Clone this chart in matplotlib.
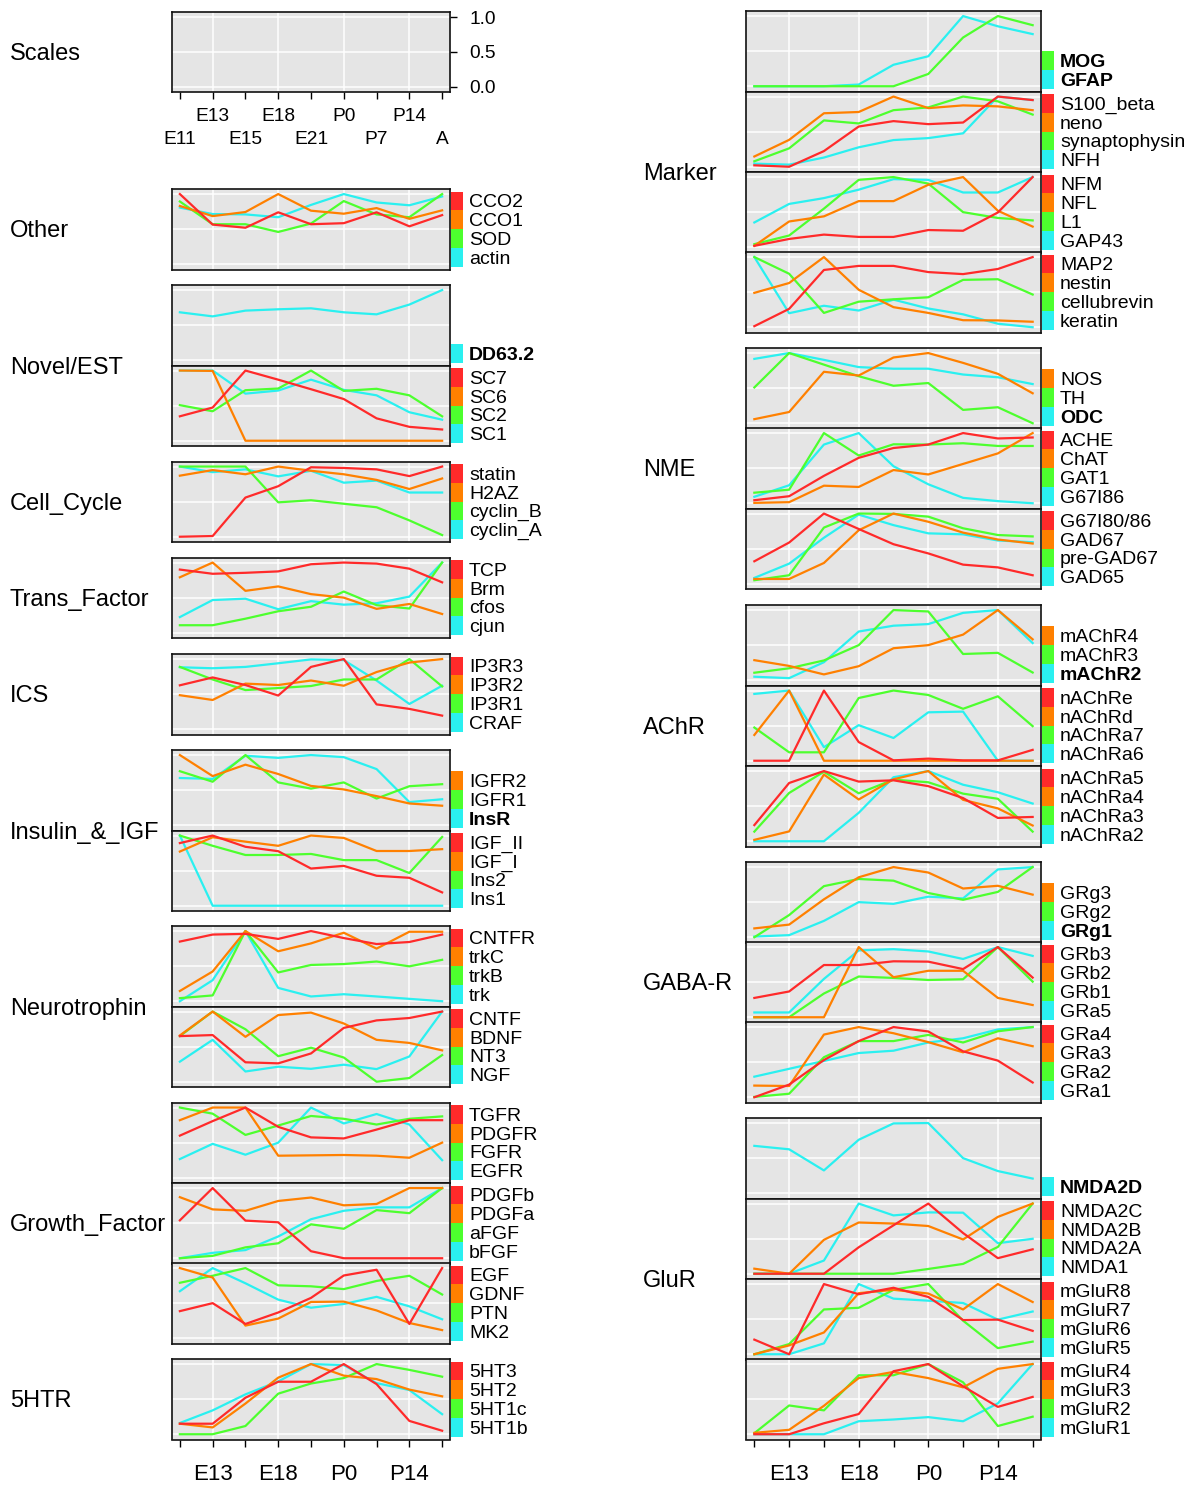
import matplotlib
matplotlib.use("Agg")
import matplotlib.pyplot as plt
from matplotlib.patches import Rectangle
from matplotlib.transforms import Affine2D, blended_transform_factory

plt.rcParams['font.family'] = ['Liberation Sans', 'DejaVu Sans']

stages = ["E11", "E13", "E15", "E18", "E21", "P0", "P7", "P14", "A"]
row1_labels = ["", "E13", "", "E18", "", "P0", "", "P14", ""]
row2_labels = ["E11", "", "E15", "", "E21", "", "P7", "", "A"]
scale_ticks = [0.0, 0.5, 1.0]

# ---------------- data (left column) ----------------
other = {"CCO2": [1.0, 0.565, 0.52, 0.74, 0.57, 0.585, 0.74, 0.54, 0.70],
         "CCO1": [0.83, 0.686, 0.744, 1.0, 0.763, 0.72, 0.80, 0.647, 0.768],
         "SOD": [0.894, 0.57, 0.57, 0.46, 0.58, 0.90, 0.71, 0.67, 1.0],
         "actin": [0.807, 0.715, 0.71, 0.67, 0.845, 1.0, 0.88, 0.84, 0.966]}
novel_a = {"DD63.2": [0.683, 0.625, 0.707, 0.726, 0.74, 0.683, 0.654, 0.793, 1.0]}
novel_b = {"SC7": [0.348, 0.473, 1.0, 0.87, 0.734, 0.594, 0.319, 0.198, 0.16],
           "SC6": [1.0, 0.995, 0, 0, 0, 0, 0, 0, 0],
           "SC2": [0.507, 0.42, 0.72, 0.744, 1.0, 0.71, 0.74, 0.647, 0.348],
           "SC1": [1.0, 1.0, 0.671, 0.715, 0.87, 0.725, 0.647, 0.406, 0.30]}
cell_cycle = {"statin": [0, 0.01, 0.558, 0.72, 0.99, 0.98, 0.96, 0.864, 1.0],
              "H2AZ": [0.87, 0.95, 0.89, 1.0, 0.94, 0.89, 0.81, 0.68, 0.83],
              "cyclin_B": [1.0, 1.0, 1.0, 0.49, 0.52, 0.47, 0.42, 0.233, 0.024],
              "cyclin_A": [1.0, 0.92, 0.96, 0.86, 0.94, 0.77, 0.80, 0.63, 0.63]}
trans_factor = {"TCP": [0.90, 0.84, 0.854, 0.874, 0.976, 1.0, 0.985, 0.913, 0.718],
                "Brm": [0.79, 1.0, 0.597, 0.66, 0.55, 0.50, 0.34, 0.41, 0.267],
                "cfos": [0.107, 0.107, 0.2, 0.306, 0.37, 0.587, 0.393, 0.345, 1.0],
                "cjun": [0.223, 0.466, 0.485, 0.335, 0.45, 0.40, 0.42, 0.515, 1.0]}
ics = {"IP3R3": [0.626, 0.738, 0.63, 0.48, 0.888, 1.0, 0.354, 0.29, 0.194],
       "IP3R2": [0.485, 0.417, 0.65, 0.63, 0.694, 0.62, 0.815, 0.95, 1.0],
       "IP3R1": [0.888, 0.709, 0.558, 0.587, 0.616, 0.709, 0.709, 1.0, 0.61],
       "CRAF": [0.883, 0.869, 0.888, 0.94, 0.995, 0.985, 0.694, 0.36, 0.62]}
insulin_a = {"IGFR2": [1.0, 0.70, 0.863, 0.73, 0.56, 0.51, 0.415, 0.31, 0.278],
             "IGFR1": [0.77, 0.62, 1.0, 0.61, 0.522, 0.61, 0.38, 0.556, 0.585],
             "InsR": [0.673, 0.66, 0.99, 0.96, 1.0, 0.97, 0.80, 0.33, 0.37]}
insulin_b = {"IGF_II": [0.893, 1.0, 0.84, 0.777, 0.53, 0.568, 0.427, 0.398, 0.19],
             "IGF_I": [0.772, 0.976, 0.913, 0.854, 1.0, 0.966, 0.78, 0.78, 0.806],
             "Ins2": [1.0, 0.854, 0.723, 0.723, 0.738, 0.65, 0.65, 0.466, 0.98],
             "Ins1": [1.0, 0, 0, 0, 0, 0, 0, 0, 0]}
neuro_a = {"CNTFR": [0.85, 0.95, 0.96, 0.888, 1.0, 0.90, 0.815, 0.844, 0.95],
           "trkC": [0.146, 0.424, 1.0, 0.712, 0.824, 0.976, 0.75, 0.99, 0.99],
           "trkB": [0.044, 0.083, 1.0, 0.41, 0.517, 0.53, 0.566, 0.497, 0.59],
           "trk": [0, 0.30, 1.0, 0.19, 0.068, 0.10, 0.068, 0.034, 0]}
neuro_b = {"CNTF": [0.65, 0.665, 0.277, 0.262, 0.403, 0.767, 0.874, 0.908, 1.0],
           "BDNF": [0.66, 1.0, 0.64, 0.95, 0.985, 0.83, 0.597, 0.553, 0.447],
           "NT3": [0.65, 1.0, 0.748, 0.364, 0.485, 0.345, 0, 0.053, 0.38],
           "NGF": [0.286, 0.597, 0.146, 0.214, 0.184, 0.243, 0.18, 0.36, 1.0]}
growth_a = {"TGFR": [0.60, 0.807, 1.0, 0.725, 0.575, 0.56, 0.686, 0.82, 0.82],
            "PDGFR": [0.82, 1.0, 1.0, 0.314, 0.319, 0.324, 0.314, 0.285, 0.50],
            "FGFR": [1.0, 0.913, 0.61, 0.744, 0.88, 0.84, 0.758, 0.84, 0.874],
            "EGFR": [0.266, 0.483, 0.328, 0.50, 1.0, 0.773, 0.908, 0.758, 0.25]}
growth_b = {"PDGFb": [0.54, 1.0, 0.536, 0.512, 0.10, 0, 0, 0, 0],
            "PDGFa": [0.87, 0.696, 0.676, 0.816, 0.865, 0.754, 0.773, 1.0, 1.0],
            "aFGF": [0, 0.034, 0.155, 0.213, 0.483, 0.42, 0.686, 0.642, 1.0],
            "bFGF": [0, 0.077, 0.116, 0.31, 0.556, 0.676, 0.725, 0.725, 1.0]}
growth_c = {"EGF": [0.386, 0.50, 0.203, 0.367, 0.575, 0.894, 0.976, 0.203, 1.0],
            "GDNF": [1.0, 0.865, 0.18, 0.28, 0.517, 0.522, 0.396, 0.217, 0.116],
            "PTN": [0.79, 0.89, 1.0, 0.754, 0.74, 0.70, 0.816, 0.89, 0.623],
            "MK2": [0.67, 1.0, 0.783, 0.55, 0.435, 0.488, 0.59, 0.454, 0.27]}
htr = {"5HT3": [0.15, 0.15, 0.52, 0.748, 0.748, 1.0, 0.714, 0.19, 0.05],
       "5HT2": [0.15, 0.097, 0.437, 0.806, 1.0, 0.835, 0.786, 0.636, 0.54],
       "5HT1c": [0, 0, 0.117, 0.578, 0.723, 0.80, 1.0, 0.917, 0.82],
       "5HT1b": [0.16, 0.34, 0.568, 0.752, 1.0, 0.985, 0.728, 0.63, 0.286]}

# ---------------- data (right column) ----------------
marker_a = {"MOG": [0, 0, 0, 0, 0, 0.175, 0.694, 1.0, 0.87],
            "GFAP": [0, 0, 0, 0.024, 0.306, 0.427, 1.0, 0.854, 0.743]}
marker_b = {"S100_beta": [0.02, 0, 0.223, 0.573, 0.65, 0.607, 0.63, 1.0, 0.95],
            "neno": [0.146, 0.383, 0.762, 0.78, 1.0, 0.835, 0.874, 0.86, 0.806],
            "synaptophysin": [0.078, 0.262, 0.66, 0.617, 0.806, 0.845, 1.0, 0.932, 0.743],
            "NFH": [0.044, 0.03, 0.131, 0.277, 0.38, 0.408, 0.476, 1.0, 0.95]}
marker_c = {"NFM": [0.02, 0.118, 0.18, 0.147, 0.147, 0.245, 0.235, 0.495, 1.0],
            "NFL": [0.02, 0.367, 0.44, 0.657, 0.657, 0.89, 1.0, 0.52, 0.294],
            "L1": [0.044, 0.167, 0.55, 0.96, 1.0, 0.907, 0.5, 0.417, 0.382],
            "GAP43": [0.353, 0.617, 0.70, 0.82, 0.97, 0.96, 0.78, 0.78, 1.0]}
marker_d = {"MAP2": [0.015, 0.262, 0.816, 0.874, 0.874, 0.786, 0.757, 0.83, 1.0],
            "nestin": [0.49, 0.63, 1.0, 0.534, 0.286, 0.204, 0.10, 0.097, 0.078],
            "cellubrevin": [1.0, 0.762, 0.204, 0.364, 0.398, 0.427, 0.675, 0.684, 0.466],
            "keratin": [1.0, 0.2, 0.306, 0.238, 0.393, 0.267, 0.184, 0.05, 0]}
nme_a = {"NOS": [0.058, 0.16, 0.733, 0.68, 0.937, 1.0, 0.86, 0.704, 0.427],
         "TH": [0.51, 1.0, 0.835, 0.67, 0.534, 0.573, 0.19, 0.228, 0],
         "ODC": [0.917, 1.0, 0.903, 0.80, 0.777, 0.777, 0.694, 0.655, 0.558]}
nme_b = {"ACHE": [0.043, 0.10, 0.39, 0.647, 0.787, 0.836, 1.0, 0.923, 0.937],
         "ChAT": [0.005, 0.015, 0.25, 0.232, 0.473, 0.41, 0.56, 0.71, 1.0],
         "GAT1": [0.15, 0.193, 1.0, 0.68, 0.84, 0.836, 0.855, 0.816, 0.816],
         "G67I86": [0.092, 0.256, 0.836, 1.0, 0.527, 0.27, 0.077, 0.03, 0]}
nme_c = {"G67I80/86": [0.32, 0.587, 1.0, 0.78, 0.563, 0.432, 0.272, 0.233, 0.121],
         "GAD67": [0.068, 0.068, 0.296, 0.762, 1.0, 0.883, 0.728, 0.63, 0.573],
         "pre-GAD67": [0.05, 0.121, 0.80, 1.0, 0.995, 0.956, 0.79, 0.694, 0.674],
         "GAD65": [0.083, 0.286, 0.655, 0.985, 0.835, 0.718, 0.704, 0.616, 0.592]}
achr_a = {"mAChR4": [0.286, 0.204, 0.083, 0.2, 0.456, 0.50, 0.65, 1.0, 0.583],
          "mAChR3": [0.107, 0.17, 0.282, 0.50, 1.0, 0.98, 0.374, 0.39, 0.11],
          "mAChR2": [0.05, 0.03, 0.257, 0.694, 0.777, 0.80, 0.96, 1.0, 0.53]}
achr_b = {"nAChRe": [0, 0, 1.0, 0.266, 0.005, 0.03, 0.005, 0.005, 0.155],
          "nAChRd": [0.367, 1.0, 0, 0, 0, 0, 0, 0, 0],
          "nAChRa7": [0.473, 0.12, 0.12, 0.894, 1.0, 0.937, 0.74, 0.918, 0.493],
          "nAChRa6": [0.952, 1.0, 0.193, 0.507, 0.324, 0.69, 0.70, 0, 0]}
achr_c = {"nAChRa5": [0.23, 0.83, 1.0, 0.85, 0.868, 0.785, 0.615, 0.332, 0.346],
          "nAChRa4": [0.02, 0.14, 0.95, 0.595, 0.883, 1.0, 0.59, 0.468, 0.224],
          "nAChRa3": [0.137, 0.688, 0.99, 0.683, 0.878, 0.84, 0.678, 0.605, 0.137],
          "nAChRa2": [0, 0, 0, 0.405, 0.912, 1.0, 0.805, 0.698, 0.537]}
gaba_a = {"GRg3": [0.126, 0.18, 0.54, 0.854, 1.0, 0.922, 0.694, 0.733, 0.607],
          "GRg2": [0, 0.316, 0.728, 0.83, 0.806, 0.63, 0.534, 0.646, 1.0],
          "GRg1": [0.01, 0.03, 0.233, 0.50, 0.476, 0.578, 0.553, 0.966, 1.0]}
gaba_b = {"GRb3": [0.275, 0.367, 0.744, 0.744, 0.797, 0.792, 0.686, 1.0, 0.565],
          "GRb2": [0, 0, 0, 1.0, 0.57, 0.662, 0.662, 0.275, 0.174],
          "GRb1": [0, 0, 0.338, 0.58, 0.56, 0.531, 0.541, 1.0, 0.507],
          "GRa5": [0.068, 0.068, 0.546, 0.952, 0.97, 0.937, 0.83, 1.0, 0.874]}
gaba_c = {"GRa4": [0, 0.18, 0.53, 0.80, 1.0, 0.937, 0.654, 0.522, 0.21],
          "GRa3": [0.166, 0.16, 0.893, 1.0, 0.912, 0.785, 0.64, 0.84, 0.727],
          "GRa2": [0.005, 0.05, 0.57, 0.80, 0.80, 0.888, 0.78, 0.94, 1.0],
          "GRa1": [0.293, 0.405, 0.517, 0.63, 0.663, 0.78, 0.84, 0.966, 1.0]}
glur_a = {"NMDA2D": [0.675, 0.626, 0.325, 0.762, 0.995, 1.0, 0.5, 0.316, 0.209]}
glur_b = {"NMDA2C": [0, 0, 0, 0.377, 0.69, 1.0, 0.58, 0.222, 0.348],
          "NMDA2B": [0.072, 0, 0.483, 0.73, 0.715, 0.68, 0.488, 0.81, 1.0],
          "NMDA2A": [0, 0, 0, 0, 0, 0.068, 0.14, 0.382, 1.0],
          "NMDA1": [0, 0, 0.188, 1.0, 0.831, 0.874, 0.87, 0.435, 0.498]}
glur_c = {"mGluR8": [0.208, 0, 1.0, 0.855, 0.947, 0.816, 0.488, 0.493, 0.333],
          "mGluR7": [0, 0.126, 0.31, 0.87, 0.918, 0.865, 0.638, 1.0, 0.744],
          "mGluR6": [0, 0.145, 0.638, 0.662, 0.918, 1.0, 0.478, 0.087, 0.18],
          "mGluR5": [0, 0, 0.155, 1.0, 0.792, 0.763, 0.73, 0.493, 0.609]}
glur_d = {"mGluR4": [0, 0, 0.156, 0.288, 0.898, 1.0, 0.683, 0.39, 0.532],
          "mGluR3": [0.02, 0.063, 0.405, 0.80, 0.888, 0.80, 0.668, 0.932, 1.0],
          "mGluR2": [0.015, 0.41, 0.34, 0.84, 0.84, 1.0, 0.74, 0.117, 0.25],
          "mGluR1": [0, 0, 0, 0.185, 0.21, 0.244, 0.185, 0.44, 1.0]}

bold_names = {"DD63.2", "InsR", "MOG", "GFAP", "ODC", "mAChR2", "GRg1", "NMDA2D"}

# ---------------- layout ----------------
W, H = 1196, 1485
DPI = 100
COLORS = ["#FF2A2A", "#FF8000", "#4DFF2E", "#2AF0F0"]
BG = "#E5E5E5"
PH = 80.5          # panel height px
LH = 18.75         # legend entry height px
XL = (-0.24, 8.24)
YL = (-0.075, 1.072)
TOFF = 2.0         # vertical text nudge px

fig = plt.figure(figsize=(W / DPI, H / DPI), dpi=DPI)
px = Affine2D().scale(1.0 / W, -1.0 / H).translate(0, 1) + fig.transFigure


def make_axes(x0, x1, top, h=PH):
    ax = fig.add_axes([x0 / W, 1 - (top + h) / H, (x1 - x0) / W, h / H])
    ax.set_facecolor(BG)
    ax.set_xlim(*XL)
    ax.set_ylim(*YL)
    for v in (1, 3, 5, 7):
        ax.axvline(v, color="white", lw=1.1, zorder=0)
    for hv in scale_ticks:
        ax.axhline(hv, color="white", lw=1.1, zorder=0)
    ax.set_xticks([])
    ax.set_yticks([])
    for s in ax.spines.values():
        s.set_linewidth(1.2)
        s.set_color("#111111")
    return ax


def panel(x0, x1, top, data):
    ax = make_axes(x0, x1, top)
    names = list(data.keys())
    n = len(names)
    cols = COLORS[4 - n:]
    for name, c in reversed(list(zip(names, cols))):
        ax.plot(range(len(stages)), data[name], color=c, lw=1.6, zorder=2)
    bottom = top + PH - 3
    for i, (name, c) in enumerate(zip(names, cols)):
        yt = bottom - (n - i) * LH
        fig.add_artist(Rectangle((x1 + 1, yt), 12, LH, transform=px,
                                 facecolor=c, edgecolor="none"))
        fig.text(x1 + 19, yt + LH / 2 + TOFF, name, transform=px, ha="left",
                 va="center", fontsize=14,
                 fontweight="bold" if name in bold_names else "normal")
    return ax


def bottom_axis(ax, ylab):
    ax.set_xticks(range(len(stages)))
    ax.set_xticklabels([""] * len(stages))
    ax.tick_params(axis="x", length=5, width=1.0, direction="out", pad=0)
    bt = blended_transform_factory(ax.transData, px)
    for i, lab in enumerate(row1_labels):
        if lab:
            ax.text(i, ylab, lab, transform=bt, ha="center", va="center",
                    fontsize=16, clip_on=False)


LX0, LX1 = 172, 450
RX0, RX1 = 746, 1041

# Scales panel
sax = make_axes(LX0, LX1, 12, 80)
sax.set_xticks(range(len(stages)))
sax.set_xticklabels([""] * len(stages))
sax.tick_params(axis="x", length=5, width=1.0, direction="out")
sax.yaxis.tick_right()
sax.set_yticks(scale_ticks)
sax.set_yticklabels(["0.0", "0.5", "1.0"])
sax.tick_params(axis="y", length=5, width=1.0, direction="out", pad=9, labelsize=13.8)
st = blended_transform_factory(sax.transData, px)
for i, lab in enumerate(row1_labels):
    if lab:
        sax.text(i, 114.5 + TOFF, lab, transform=st, ha="center", va="center", fontsize=13.8, clip_on=False)
for i, lab in enumerate(row2_labels):
    if lab:
        sax.text(i, 137.5 + TOFF, lab, transform=st, ha="center", va="center", fontsize=13.8, clip_on=False)

left_groups = [
    ("Other", [(189, other)]),
    ("Novel/EST", [(285, novel_a), (365.5, novel_b)]),
    ("Cell_Cycle", [(461.5, cell_cycle)]),
    ("Trans_Factor", [(557.5, trans_factor)]),
    ("ICS", [(654, ics)]),
    ("Insulin_&_IGF", [(750, insulin_a), (830.5, insulin_b)]),
    ("Neurotrophin", [(926, neuro_a), (1006.5, neuro_b)]),
    ("Growth_Factor", [(1102.5, growth_a), (1183, growth_b), (1263, growth_c)]),
    ("5HTR", [(1359, htr)]),
]
right_groups = [
    ("Marker", [(11, marker_a), (91.5, marker_b), (172, marker_c), (252, marker_d)]),
    ("NME", [(348, nme_a), (428, nme_b), (508.5, nme_c)]),
    ("AChR", [(605, achr_a), (685.5, achr_b), (766, achr_c)]),
    ("GABA-R", [(862, gaba_a), (942, gaba_b), (1022, gaba_c)]),
    ("GluR", [(1118, glur_a), (1198.5, glur_b), (1279, glur_c), (1359, glur_d)]),
]

fig.text(10, 52 + TOFF, "Scales", transform=px, ha="left", va="center", fontsize=17)

last_axes = []
for groups, x0, x1, lx in ((left_groups, LX0, LX1, 10), (right_groups, RX0, RX1, 643)):
    ax = None
    for label, panels in groups:
        for top, data in panels:
            ax = panel(x0, x1, top, data)
        yc = (panels[0][0] + panels[-1][0] + PH) / 2
        fig.text(lx, yc + TOFF, label, transform=px, ha="left", va="center", fontsize=17)
    last_axes.append(ax)

for ax in last_axes:
    bottom_axis(ax, 1473 + TOFF)

fig.savefig("out.png", dpi=DPI)
